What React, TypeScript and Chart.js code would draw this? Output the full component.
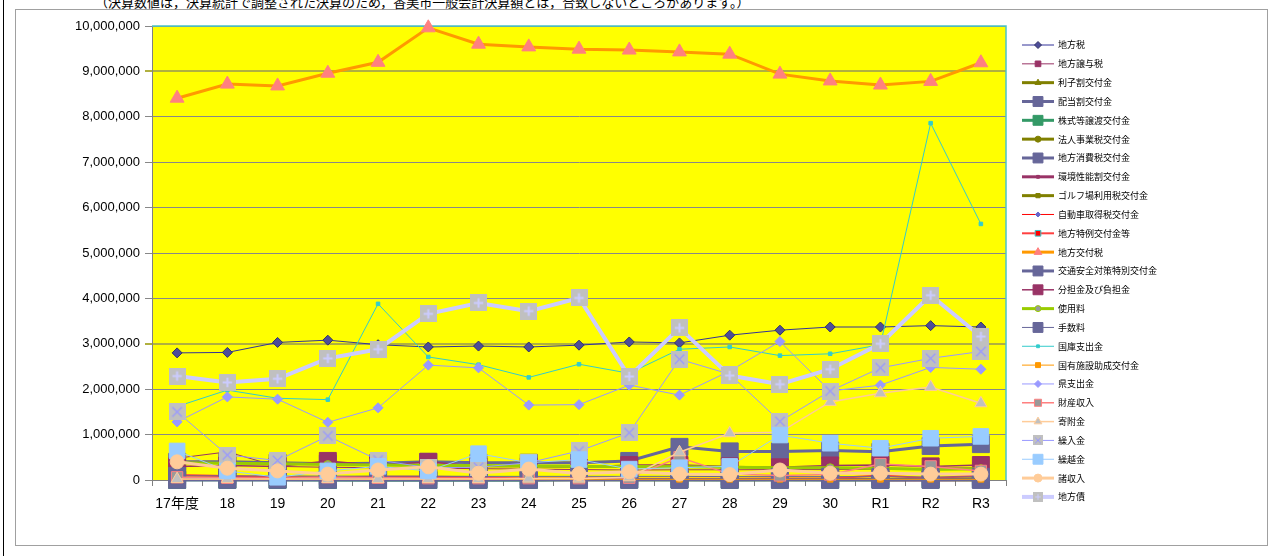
import React, { useEffect, useRef } from 'react';
import { Chart, registerables } from 'chart.js';
import * as helpers from 'chart.js/helpers';

Chart.register(...registerables);

// ---------- data ----------
const YEARS = ['17年度', '18', '19', '20', '21', '22', '23', '24', '25', '26', '27', '28', '29', '30', 'R1', 'R2', 'R3'];
const Y_TICK_LABELS = ['0', '1,000,000', '2,000,000', '3,000,000', '4,000,000', '5,000,000', '6,000,000', '7,000,000', '8,000,000', '9,000,000', '10,000,000'];

const SERIES_NAMES = [
  '地方税', '地方譲与税', '利子割交付金', '配当割交付金', '株式等譲渡交付金', '法人事業税交付金',
  '地方消費税交付金', '環境性能割交付金', 'ゴルフ場利用税交付金', '自動車取得税交付金', '地方特例交付金等',
  '地方交付税', '交通安全対策特別交付金', '分担金及び負担金', '使用料', '手数料', '国庫支出金',
  '国有施設助成交付金', '県支出金', '財産収入', '寄附金', '繰入金', '繰越金', '諸収入', '地方債',
];

const chihouzei = [2800000, 2810000, 3030000, 3080000, 2980000, 2930000, 2950000, 2930000, 2970000, 3040000, 3020000, 3190000, 3300000, 3370000, 3370000, 3400000, 3370000];
const jouyozei = [480000, 620000, 300000, 280000, 270000, 260000, 250000, 240000, 230000, 220000, 225000, 225000, 230000, 230000, 240000, 260000, 270000];
const rishiwari = [18000, 17000, 17000, 15000, 12000, 10000, 9000, 8000, 8000, 6000, 5000, 4000, 4000, 4000, 3000, 3000, 2000];
const haitouwari = [4000, 6000, 7000, 3000, 2000, 2000, 2000, 3000, 6000, 12000, 10000, 7000, 9000, 8000, 8000, 8000, 11000];
const kabushiki = [5000, 4000, 3000, 1000, 1000, 1000, 1000, 1000, 10000, 6000, 8000, 4000, 8000, 6000, 6000, 9000, 14000];
const houjinjigyou = [null, null, null, null, null, null, null, null, null, null, null, null, null, null, null, 12000, 20000];
const shouhizei = [400000, 400000, 380000, 360000, 370000, 400000, 380000, 380000, 380000, 420000, 730000, 630000, 630000, 650000, 620000, 750000, 790000];
const kankyou = [null, null, null, null, null, null, null, null, null, null, null, null, null, null, 3000, 8000, 9000];
const golf = [16000, 16000, 15000, 15000, 14000, 14000, 14000, 13000, 13000, 13000, 12000, 12000, 12000, 11000, 11000, 10000, 10000];
const jidousha = [60000, 62000, 60000, 50000, 30000, 30000, 28000, 33000, 30000, 15000, 25000, 25000, 30000, 30000, 12000, null, null];
const tokurei = [110000, 90000, 60000, 60000, 70000, 70000, 60000, 30000, 30000, 30000, 30000, 30000, 35000, 40000, 100000, 40000, 100000];
const koufuzei = [8410000, 8720000, 8680000, 8960000, 9200000, 9960000, 9600000, 9540000, 9490000, 9470000, 9430000, 9380000, 8940000, 8790000, 8700000, 8780000, 9190000];
const koutsuu = [5000, 5000, 5000, 5000, 4500, 4500, 4500, 4000, 4000, 4000, 4000, 4000, 3500, 3500, 3500, 3000, 3000];
const buntankin = [300000, 320000, 300000, 420000, 320000, 400000, 300000, 300000, 280000, 330000, 330000, 300000, 280000, 320000, 330000, 300000, 330000];
const shiyouryou = [380000, 370000, 360000, 340000, 330000, 320000, 320000, 310000, 300000, 300000, 290000, 280000, 270000, 270000, 260000, 230000, 250000];
const tesuuryou = [90000, 90000, 90000, 85000, 85000, 85000, 80000, 80000, 80000, 80000, 80000, 75000, 75000, 75000, 70000, 65000, 70000];
const kokko = [1620000, 1980000, 1800000, 1770000, 3880000, 2710000, 2540000, 2260000, 2550000, 2350000, 2880000, 2930000, 2740000, 2780000, 2980000, 7860000, 5640000];
const kokuyuu = [15000, 15000, 15000, 15000, 15000, 15000, 15000, 15000, 15000, 15000, 15000, 15000, 15000, 15000, 15000, 15000, 15000];
const kenshishutsu = [1280000, 1830000, 1780000, 1270000, 1590000, 2530000, 2470000, 1650000, 1660000, 2090000, 1870000, 2400000, 3050000, 1960000, 2090000, 2480000, 2440000];
const zaisan = [60000, 50000, 40000, 60000, 50000, 40000, 40000, 40000, 40000, 50000, 500000, 130000, 100000, 120000, 350000, 300000, 200000];
const kifukin = [20000, 20000, 20000, 20000, 20000, 20000, 20000, 30000, 30000, 60000, 610000, 1030000, 1050000, 1720000, 1910000, 2050000, 1690000];
const kurirekin = [1500000, 550000, 430000, 970000, 440000, 270000, 280000, 380000, 640000, 1040000, 2660000, 2330000, 1290000, 1960000, 2470000, 2680000, 2830000];
const kurikoshi = [640000, 200000, 60000, 200000, 300000, 200000, 580000, 380000, 450000, 240000, 270000, 300000, 990000, 810000, 700000, 920000, 960000];
const shoshuunyuu = [400000, 260000, 200000, 130000, 220000, 290000, 150000, 240000, 140000, 180000, 130000, 120000, 220000, 150000, 150000, 130000, 130000];
const chihousai = [2290000, 2150000, 2230000, 2680000, 2880000, 3660000, 3900000, 3720000, 4010000, 2280000, 3350000, 2300000, 2110000, 2440000, 3000000, 4070000, 3160000];

const SERIES_VALUES = [
  chihouzei, jouyozei, rishiwari, haitouwari, kabushiki, houjinjigyou, shouhizei, kankyou, golf, jidousha,
  tokurei, koufuzei, koutsuu, buntankin, shiyouryou, tesuuryou, kokko, kokuyuu, kenshishutsu, zaisan,
  kifukin, kurirekin, kurikoshi, shoshuunyuu, chihousai,
];

// ---------- styles ----------
type St = { line: string; width: number; point: string; radius: number; fill: string; border: string; lr: number };
const STYLES: St[] = [
  { line: '#333399', width: 1, point: 'rectRot', radius: 5, fill: '#4d4d99', border: '#333366', lr: 3.5 },
  { line: '#993366', width: 1, point: 'rect', radius: 4, fill: '#993366', border: '#993366', lr: 4 },
  { line: '#808000', width: 3, point: 'triangle', radius: 4, fill: '#808000', border: '#808000', lr: 3.5 },
  { line: '#666699', width: 3, point: 'rect', radius: 12, fill: '#666699', border: '#666699', lr: 7 },
  { line: '#339966', width: 3, point: 'rect', radius: 12, fill: '#339966', border: '#339966', lr: 7 },
  { line: '#808000', width: 3, point: 'circle', radius: 4, fill: '#808000', border: '#808000', lr: 3 },
  { line: '#666699', width: 3, point: 'rect', radius: 12, fill: '#666699', border: '#666699', lr: 7 },
  { line: '#993366', width: 3, point: 'rect', radius: 2, fill: '#993366', border: '#993366', lr: 2 },
  { line: '#808000', width: 3, point: 'rect', radius: 3, fill: '#808000', border: '#808000', lr: 3 },
  { line: '#ff0000', width: 1, point: 'rectRot', radius: 3, fill: '#6666cc', border: '#6666cc', lr: 2.5 },
  { line: '#ff4040', width: 2, point: 'rect', radius: 4, fill: '#ff0000', border: '#33cccc', lr: 4 },
  { line: '#ff9900', width: 3, point: 'triangle', radius: 8, fill: '#ff8080', border: '#ff8080', lr: 4.5 },
  { line: '#666699', width: 3, point: 'rect', radius: 12, fill: '#666699', border: '#666699', lr: 7 },
  { line: '#993366', width: 1.5, point: 'rect', radius: 12, fill: '#993366', border: '#993366', lr: 7 },
  { line: '#99cc00', width: 3, point: 'circle', radius: 4, fill: '#999999', border: '#99cc00', lr: 3 },
  { line: '#666699', width: 1, point: 'rect', radius: 12, fill: '#666699', border: '#666699', lr: 7 },
  { line: '#33cccc', width: 1, point: 'rect', radius: 2.5, fill: '#33cccc', border: '#33cccc', lr: 2 },
  { line: '#ff9900', width: 1, point: 'rect', radius: 4, fill: '#ff9900', border: '#ff9900', lr: 3.5 },
  { line: '#9999ff', width: 1, point: 'rectRot', radius: 5, fill: '#9999ff', border: '#9999ff', lr: 3.5 },
  { line: '#ff8080', width: 1.5, point: 'rect', radius: 8, fill: '#999999', border: '#ff8080', lr: 5 },
  { line: '#ffcc99', width: 1.5, point: 'triangle', radius: 7, fill: '#c0c0c0', border: '#ffcc99', lr: 4.5 },
  { line: '#9999ff', width: 1, point: 'crossX', radius: 12, fill: '#c0c0c0', border: '#9999ff', lr: 7 },
  { line: '#99ccff', width: 1, point: 'rect', radius: 11, fill: '#99ccff', border: '#99ccff', lr: 7 },
  { line: '#ffcc99', width: 3, point: 'circle', radius: 7, fill: '#ffcc99', border: '#ffcc99', lr: 4 },
  { line: '#ccccff', width: 4, point: 'crossPlus', radius: 12, fill: '#c0c0c0', border: '#ccccff', lr: 7 },
];

function makeCrossImage(size: number, kind: string, bg: string, fg: string, lw: number) {
  const c = document.createElement('canvas');
  c.width = size;
  c.height = size;
  const g = c.getContext('2d')!;
  g.fillStyle = bg;
  g.fillRect(0, 0, size, size);
  g.strokeStyle = fg;
  g.lineWidth = lw;
  const m = size * 0.22;
  g.beginPath();
  if (kind === 'crossX') {
    g.moveTo(m, m); g.lineTo(size - m, size - m);
    g.moveTo(size - m, m); g.lineTo(m, size - m);
  } else {
    g.moveTo(size / 2, m); g.lineTo(size / 2, size - m);
    g.moveTo(m, size / 2); g.lineTo(size - m, size / 2);
  }
  g.stroke();
  return c;
}

const LEGEND_X0 = 1022;
const LEGEND_X1 = 1054;
const LEGEND_TEXT_X = 1058;
const LEGEND_TOP = 45;
const LEGEND_STEP = 18.83;

export default function App() {
  const ref = useRef<HTMLCanvasElement | null>(null);

  useEffect(() => {
    if (!ref.current) return;
    const images: Record<string, { big: HTMLCanvasElement; small: HTMLCanvasElement }> = {};
    STYLES.forEach((s) => {
      if (s.point === 'crossX' || s.point === 'crossPlus') {
        images[s.point] = {
          big: makeCrossImage(17, s.point, s.fill, s.border, s.point === 'crossPlus' ? 2 : 1.2),
          small: makeCrossImage(10, s.point, s.fill, s.border, 1),
        };
      }
    });

    const datasets = SERIES_NAMES.map((name, i) => {
      const s = STYLES[i];
      const ps: any = images[s.point] ? images[s.point].big : s.point;
      return {
        label: name,
        data: SERIES_VALUES[i],
        borderColor: s.line,
        backgroundColor: s.fill,
        borderWidth: s.width,
        pointStyle: ps,
        pointRadius: s.radius,
        pointBackgroundColor: s.fill,
        pointBorderColor: s.border,
        pointBorderWidth: 1,
        tension: 0,
        clip: false as any,
        order: SERIES_NAMES.length - i,
        spanGaps: false,
      };
    });

    const plotBg = {
      id: 'plotBg',
      beforeDraw(chart: any) {
        const { ctx, chartArea: a } = chart;
        ctx.save();
        ctx.fillStyle = '#ffff00';
        ctx.fillRect(a.left, a.top, a.right - a.left, a.bottom - a.top);
        ctx.restore();
      },
      beforeDatasetsDraw(chart: any) {
        const { ctx, chartArea: a } = chart;
        ctx.save();
        ctx.strokeStyle = '#4cc4c4';
        ctx.lineWidth = 1.5;
        ctx.beginPath();
        ctx.moveTo(a.left, a.top);
        ctx.lineTo(a.right, a.top);
        ctx.lineTo(a.right, a.bottom);
        ctx.stroke();
        ctx.restore();
      },
    };

    const sideLegend = {
      id: 'sideLegend',
      afterDraw(chart: any) {
        const ctx = chart.ctx;
        ctx.save();
        SERIES_NAMES.forEach((name, i) => {
          const s = STYLES[i];
          const y = LEGEND_TOP + i * LEGEND_STEP;
          ctx.strokeStyle = s.line;
          ctx.lineWidth = s.width;
          ctx.beginPath();
          ctx.moveTo(LEGEND_X0, y);
          ctx.lineTo(LEGEND_X1, y);
          ctx.stroke();
          const cx = (LEGEND_X0 + LEGEND_X1) / 2;
          if (images[s.point]) {
            ctx.drawImage(images[s.point].small, cx - 5, y - 5);
          } else {
            ctx.fillStyle = s.fill;
            ctx.strokeStyle = s.border;
            ctx.lineWidth = 1;
            helpers.drawPoint(ctx, { pointStyle: s.point, radius: s.lr, rotation: 0, borderWidth: 1 } as any, cx, y);
          }
          ctx.fillStyle = '#000';
          ctx.font = '9px "Noto Sans CJK JP", sans-serif';
          ctx.textBaseline = 'middle';
          ctx.textAlign = 'left';
          ctx.fillText(name, LEGEND_TEXT_X, y);
        });
        ctx.restore();
      },
    };

    const chart = new Chart(ref.current, {
      type: 'line',
      data: { labels: YEARS, datasets: datasets as any },
      plugins: [plotBg, sideLegend],
      options: {
        animation: false,
        responsive: false,
        maintainAspectRatio: false,
        layout: { padding: { left: 0, right: 271, top: 26, bottom: 0 } },
        plugins: { legend: { display: false }, tooltip: { enabled: false } },
        elements: { line: { tension: 0 } },
        scales: {
          x: {
            type: 'category',
            offset: true,
            grid: {
              display: true,
              offset: true,
              drawOnChartArea: false,
              drawTicks: true,
              tickLength: 6,
              color: '#808080',
            },
            border: { display: true, color: '#808080', width: 1 },
            ticks: {
              color: '#000',
              padding: 10,
              font: { size: 14, family: '"Liberation Sans", "Noto Sans CJK JP", sans-serif' },
              maxRotation: 0,
              autoSkip: false,
            },
            afterFit(scale: any) {
              scale.height = 76;
              scale.paddingLeft = 0;
              scale.paddingRight = 0;
            },
          },
          y: {
            min: 0,
            max: 10000000,
            grid: {
              color: (c: any) => (c.tick && (c.tick.value === 3000000 || c.tick.value === 9000000) ? '#b0b040' : '#888888'),
              lineWidth: (c: any) => (c.tick && (c.tick.value === 3000000 || c.tick.value === 9000000) ? 2 : 1),
              tickLength: 7,
              drawTicks: true,
            },
            border: { display: true, color: '#808080', width: 1 },
            ticks: {
              stepSize: 1000000,
              color: '#000',
              padding: 5,
              font: { size: 13, family: '"Liberation Sans", sans-serif' },
              callback: (_v: any, idx: number) => Y_TICK_LABELS[idx],
            },
            afterFit(scale: any) {
              scale.width = 152;
              scale.paddingTop = 0;
              scale.paddingBottom = 0;
            },
          },
        },
      },
    });
    return () => chart.destroy();
  }, []);

  return (
    <div style={{ position: 'absolute', left: 0, top: 0, width: 1277, height: 556, overflow: 'hidden', background: '#fff' }}>
      <div style={{ position: 'absolute', left: 3, top: 0, width: 1, height: 556, background: '#000' }} />
      <div style={{ position: 'absolute', left: 15, top: 9, width: 1253, height: 537, border: '1px solid #a0a0a0', boxSizing: 'border-box' }} />
      <div
        style={{
          position: 'absolute',
          left: 95,
          top: -5,
          whiteSpace: 'nowrap',
          fontSize: 13,
          lineHeight: '13px',
          fontFamily: '"Noto Sans CJK JP", sans-serif',
          color: '#000',
        }}
      >
        （決算数値は，決算統計で調整された決算のため，香美市一般会計決算額とは，合致しないところがあります。）
      </div>
      <canvas ref={ref} width={1277} height={556} style={{ position: 'absolute', left: 0, top: 0, width: 1277, height: 556 }} />
    </div>
  );
}
